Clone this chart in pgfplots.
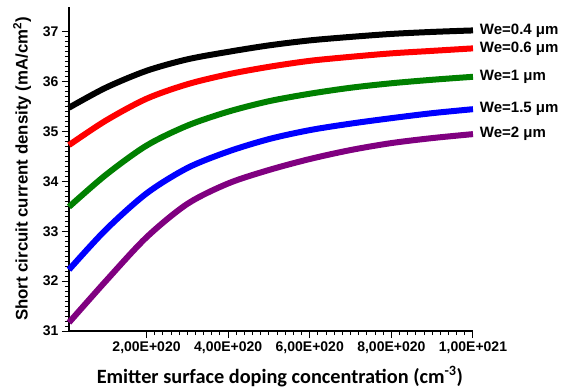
\documentclass[border=0pt]{standalone}
\usepackage{fontspec}
\setmainfont{Liberation Sans}
\newfontfamily\calib{Carlito}
\usepackage{pgfplots}
\pgfplotsset{compat=1.18}
\definecolor{cgreen}{RGB}{0,128,0}
\definecolor{cpurple}{RGB}{128,0,128}
\tikzset{lbl/.style={pos=1, anchor=west, inner sep=0pt, xshift=4pt, text=black, font=\fontsize{15}{17}\selectfont\bfseries}}
\begin{document}
\begin{tikzpicture}
\begin{axis}[
  at={(0,0)}, anchor=south west,
  scale only axis, width=404pt, height=324pt,
  xmin=0.1, xmax=10, ymin=31, ymax=37.5,
  axis x line*=bottom, axis y line*=left,
  axis line style={line width=1.3pt,-},
  xtick={2,4,6,8,10},
  xticklabels={{2,00E+020},{4,00E+020},{6,00E+020},{8,00E+020},{1,00E+021}},
  ytick={31,32,33,34,35,36,37},
  minor x tick num=9, minor y tick num=9,
  tick align=outside,
  major tick length=7pt, minor tick length=4pt,
  every tick/.style={line width=1pt, black},
  /pgf/number format/assume math mode=true,
  tick label style={font=\fontsize{14}{16}\selectfont\bfseries},
  xlabel={\calib\bfseries Emitter surface doping concentration (cm\textsuperscript{-3})},
  xlabel style={at={(axis description cs:0.522,-0.1614)}, anchor=base, font=\fontsize{20.3}{23}\selectfont},
  ylabel={Short circuit current density (mA/cm\textsuperscript{2})},
  ylabel style={at={(axis description cs:-0.116,0.5)}, anchor=center, rotate=0, font=\fontsize{16.8}{19}\selectfont\bfseries},
  clip=false,
  every axis plot/.append style={line width=6pt, smooth},
]
\addplot[black] coordinates {(0.1,35.48)(1,35.88)(2,36.22)(3,36.45)(4,36.60)(5,36.73)(6,36.83)(7,36.90)(8,36.96)(9,37.00)(10,37.03)}
  node[lbl] {We=0.4 μm};
\addplot[red] coordinates {(0.1,34.73)(1,35.22)(2,35.66)(3,35.95)(4,36.15)(5,36.30)(6,36.42)(7,36.50)(8,36.57)(9,36.62)(10,36.67)}
  node[lbl] {We=0.6 μm};
\addplot[cgreen] coordinates {(0.1,33.49)(1,34.13)(2,34.72)(3,35.12)(4,35.40)(5,35.61)(6,35.76)(7,35.88)(8,35.97)(9,36.04)(10,36.10)}
  node[lbl] {We=1 μm};
\addplot[blue] coordinates {(0.1,32.23)(1,33.03)(2,33.76)(3,34.27)(4,34.60)(5,34.85)(6,35.03)(7,35.16)(8,35.27)(9,35.37)(10,35.45)}
  node[lbl] {We=1.5 μm};
\addplot[cpurple] coordinates {(0.1,31.17)(1,32.00)(2,32.88)(3,33.55)(4,33.96)(5,34.23)(6,34.45)(7,34.63)(8,34.77)(9,34.87)(10,34.95)}
  node[lbl] {We=2 μm};
\end{axis}
\pgfresetboundingbox
\path (-69pt,-57pt) rectangle (498pt,331pt);
\end{tikzpicture}
\end{document}
